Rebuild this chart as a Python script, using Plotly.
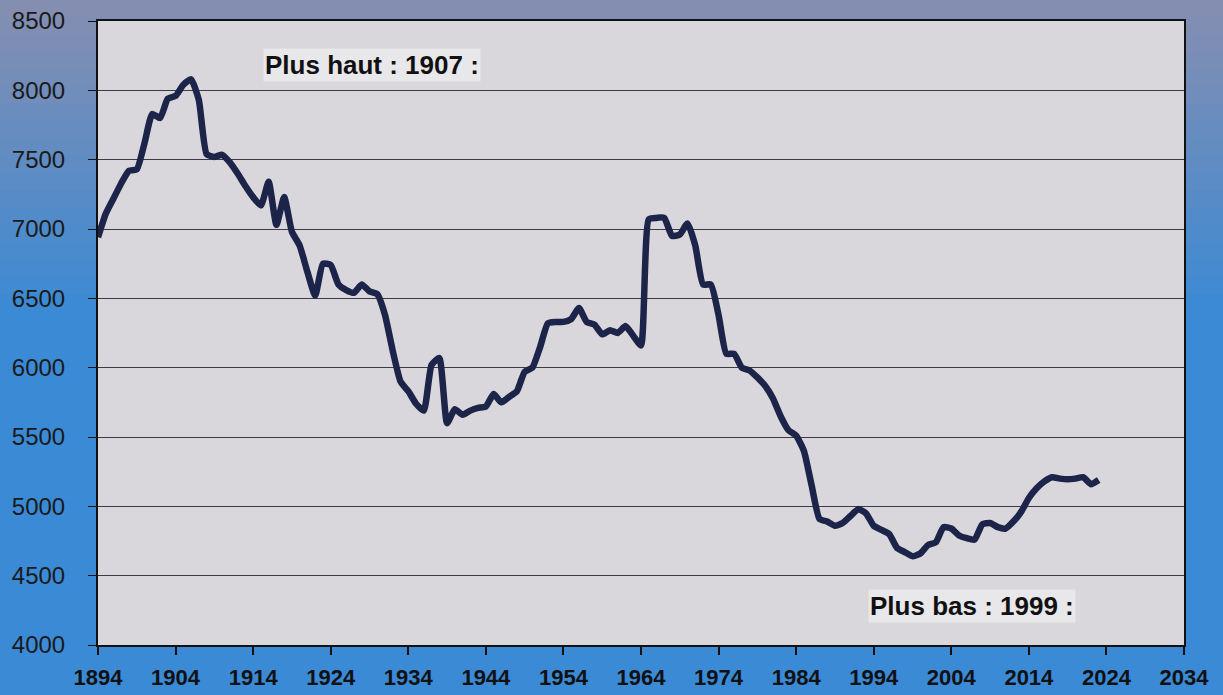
import plotly.graph_objects as go

years = list(range(1894, 2024))
values = [
    6940, 7110, 7220, 7330, 7420, 7430, 7620, 7830, 7800, 7940,   # 1894-1903
    7960, 8040, 8080, 7930, 7540, 7520, 7535, 7480, 7400, 7310,   # 1904-1913
    7230, 7170, 7340, 7030, 7230, 6980, 6880, 6690, 6520, 6750,   # 1914-1923
    6740, 6600, 6560, 6540, 6600, 6550, 6530, 6380, 6120, 5900,   # 1924-1933
    5830, 5740, 5690, 6020, 6070, 5600, 5700, 5660, 5690, 5710,   # 1934-1943
    5720, 5810, 5750, 5790, 5830, 5970, 6000, 6150, 6320, 6330,   # 1944-1953
    6330, 6350, 6430, 6330, 6310, 6240, 6270, 6250, 6300, 6230,   # 1954-1963
    6160, 7070, 7080, 7080, 6950, 6960, 7040, 6880, 6600, 6600,   # 1964-1973
    6380, 6100, 6100, 6000, 5980, 5930, 5870, 5780, 5650, 5550,   # 1974-1983
    5510, 5400, 5150, 4910, 4890, 4860, 4880, 4930, 4980, 4950,   # 1984-1993
    4860, 4830, 4800, 4700, 4670, 4640, 4660, 4720, 4740, 4850,   # 1994-2003
    4840, 4790, 4770, 4760, 4870, 4880, 4850, 4840, 4890, 4960,   # 2004-2013
    5060, 5130, 5180, 5210, 5200, 5195, 5200, 5210, 5160, 5190,   # 2014-2023
]

x_ticks = [1894, 1904, 1914, 1924, 1934, 1944, 1954, 1964, 1974, 1984, 1994, 2004, 2014, 2024, 2034]
y_ticks = [4000, 4500, 5000, 5500, 6000, 6500, 7000, 7500, 8000, 8500]

label_high = "Plus haut : 1907 :"
label_low = "Plus bas : 1999 :"

fig = go.Figure()
fig.add_trace(go.Scatter(
    x=years, y=values, mode="lines",
    line=dict(color="#1c2449", width=6.5, shape="spline", smoothing=0.5),
    hoverinfo="x+y", showlegend=False,
))

# background gradient (grey-blue at top to blue further down)
W, H = 1223, 695
L, R, T, B = 98, 39, 21, 50
pw, ph = W - L - R, H - T - B
top = (135, 143, 176)
bot = (58, 138, 214)
n = 40
shapes = []
for i in range(n):
    y_top_px = i * H / n
    y_bot_px = (i + 1) * H / n
    f = min(1.0, (y_top_px + H / n / 2) / 320.0)
    c = tuple(int(top[k] + (bot[k] - top[k]) * f) for k in range(3))
    shapes.append(dict(
        type="rect", xref="paper", yref="paper", layer="below",
        x0=-L / pw - 0.01, x1=1 + R / pw + 0.01,
        y0=(H - B - y_bot_px) / ph - 0.001, y1=(H - B - y_top_px) / ph + 0.001,
        fillcolor="rgb(%d,%d,%d)" % c, line=dict(width=0),
    ))
# plot area fill
shapes.append(dict(type="rect", xref="paper", yref="paper", layer="below",
                   x0=0, x1=1, y0=0, y1=1, fillcolor="#d9d7dc", line=dict(width=0)))

fig.update_layout(
    width=W, height=H,
    margin=dict(l=L, r=R, t=T, b=B, autoexpand=False),
    paper_bgcolor="rgb(80,135,200)",
    plot_bgcolor="#d9d7dc",
    shapes=shapes,
    xaxis=dict(
        range=[1894, 2034], tickvals=x_ticks,
        ticktext=["<b>%d</b>" % v for v in x_ticks],
        tickfont=dict(family="Liberation Sans Narrow, Arial Narrow, Liberation Sans, Arial", size=22, color="#111"),
        showgrid=False, zeroline=False, automargin=False,
        showline=True, linecolor="#111", linewidth=2, mirror=True,
        ticks="outside", ticklen=8, tickcolor="#111", tickwidth=2,
        ticklabelstandoff=4,
    ),
    yaxis=dict(
        range=[4000, 8500], tickvals=y_ticks, automargin=False,
        tickfont=dict(family="Liberation Sans, Arial", size=24, color="#1a1a1a"),
        showgrid=True, gridcolor="#3c3c44", gridwidth=1, zeroline=False,
        showline=True, linecolor="#111", linewidth=2, mirror=True,
        ticks="outside", ticklen=8, tickcolor="#111", tickwidth=1,
        ticklabelstandoff=18,
    ),
    annotations=[
        dict(x=1915.3, y=8185, xref="x", yref="y", text="<b>%s</b>" % label_high,
             showarrow=False, xanchor="left", yanchor="middle",
             font=dict(family="Liberation Sans Narrow, Arial Narrow, Liberation Sans, Arial", size=26, color="#111"),
             bgcolor="rgba(255,255,255,0.4)"),
        dict(x=1993.3, y=4281, xref="x", yref="y", text="<b>%s</b>" % label_low,
             showarrow=False, xanchor="left", yanchor="middle",
             font=dict(family="Liberation Sans Narrow, Arial Narrow, Liberation Sans, Arial", size=26, color="#111"),
             bgcolor="rgba(255,255,255,0.4)"),
    ],
)

fig.write_html("out.html", config={"displayModeBar": False},
               post_script="document.body.style.margin='0';")
